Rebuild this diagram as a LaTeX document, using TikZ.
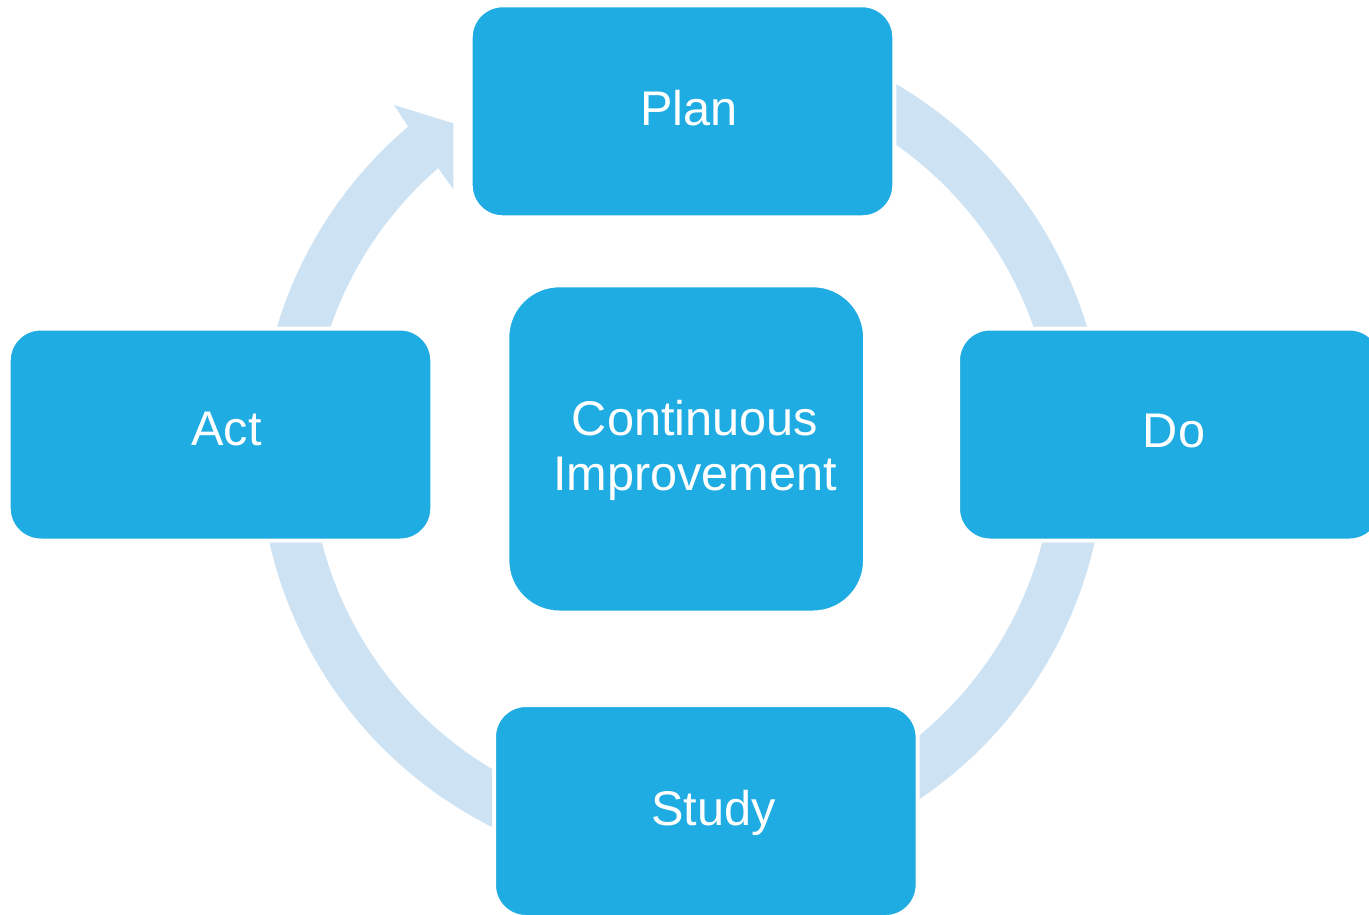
\documentclass[tikz,border=0pt]{standalone}
\usepackage{fontspec}
\setmainfont{Liberation Sans}
\definecolor{boxc}{RGB}{30,172,226}
\definecolor{ringc}{RGB}{205,227,244}
\begin{document}
\begin{tikzpicture}[x=0.75pt,y=-0.75pt,
  cardbox/.style={draw=white, line width=3pt, fill=boxc, rounded corners=24pt,
    inner sep=0pt, outer sep=0pt, minimum width=317.7pt, minimum height=159pt},
  lbl/.style={text=white, font=\fontsize{36.5}{42}\selectfont, inner sep=0pt, anchor=base},
]
\useasboundingbox (0,0) rectangle (1369,914);
\fill[white] (0,0) rectangle (1369,914);
% circular arrow
\fill[ringc] ([shift={(682,449)}]-115:423)
  arc[start angle=-115, end angle=229.66, radius=423]
  -- (394,105) -- (453.3,123.3) -- (453.3,189.3)
  -- ([shift={(682,449)}]229.04:372)
  arc[start angle=229.04, end angle=-115, radius=372] -- cycle;
% boxes
\node[cardbox] (plan) at (682.5,111.3) {};
\node[cardbox] (act) at (220.5,434.5) {};
\node[cardbox] (do) at (1169.8,434.5) {};
\node[cardbox] (study) at (705.8,811) {};
\node[cardbox, rounded corners=39pt, minimum width=268.3pt, minimum height=245.4pt] (center) at (686.2,448.9) {};
% labels
\node[lbl] (tplan) at (689,125) {Plan};
\node[lbl] (tact) at (226.5,445) {Act};
\node[lbl] (tdo) at (1174,447) {Do};
\node[lbl] (tstudy) at (713.5,825) {Study};
\node[lbl] (tci1) at (695,435) {Continuous};
\node[lbl] (tci2) at (695,490) {Improvement};
\end{tikzpicture}
\end{document}
